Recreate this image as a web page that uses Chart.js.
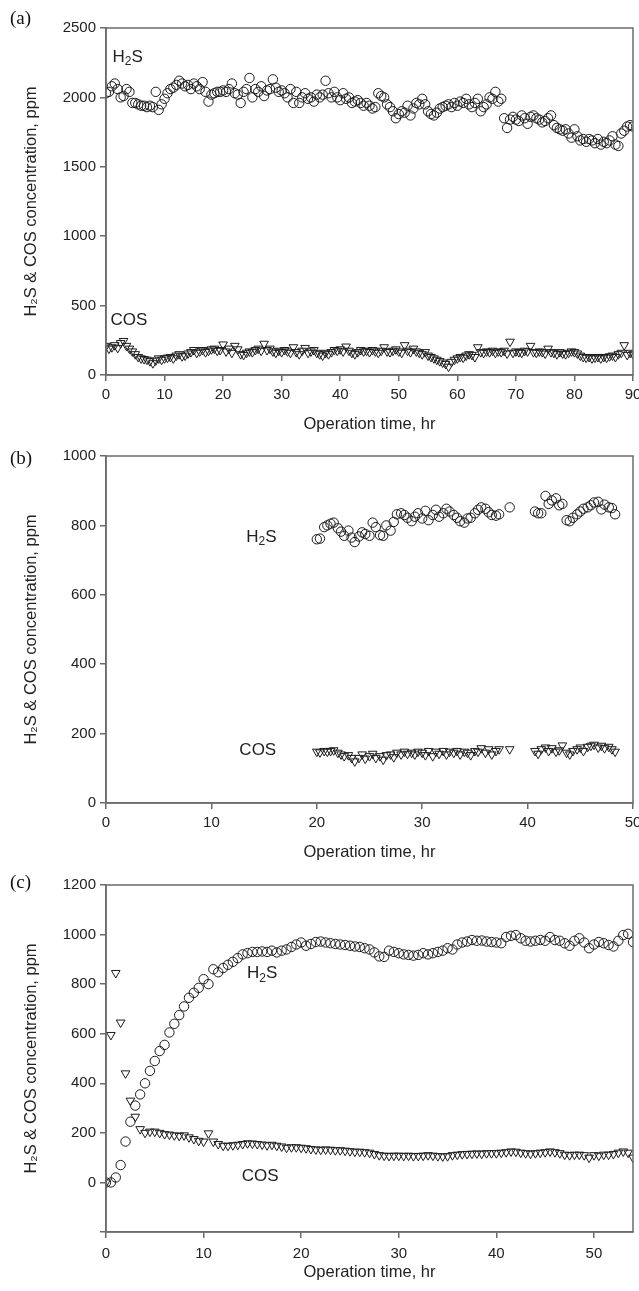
<!DOCTYPE html>
<html><head><meta charset="utf-8">
<script src="https://cdn.jsdelivr.net/npm/chart.js@4.4.1/dist/chart.umd.min.js"></script>
<style>
html,body{margin:0;padding:0;background:#fff;width:639px;height:1291px;overflow:hidden;position:relative;}
.panel{position:absolute;left:0;width:639px;}
.plabel{position:absolute;left:10px;font-family:"Liberation Serif","Times New Roman",serif;font-size:19px;color:#111;line-height:1;}
</style></head><body>
<div class="panel" style="top:0;height:440px"><canvas id="ca" width="639" height="440"></canvas></div>
<div class="panel" style="top:428px;height:440px"><canvas id="cb" width="639" height="440"></canvas></div>
<div class="panel" style="top:857px;height:434px"><canvas id="cc" width="639" height="434"></canvas></div>
<div class="plabel" style="top:8px">(a)</div>
<div class="plabel" style="top:448px">(b)</div>
<div class="plabel" style="top:872px">(c)</div>
<script>
// ---------- Panel (a) ----------
const timeA = [
 0,0.5,1,1.5,2,2.5,3,3.5,4,4.5,5,5.5,6,6.5,7,7.5,8,8.5,9,9.5,
 10,10.5,11,11.5,12,12.5,13,13.5,14,14.5,15,15.5,16,16.5,17,17.5,18,18.5,19,19.5,
 20,20.5,21,21.5,22,22.5,23,23.5,24,24.5,25,25.5,26,26.5,27,27.5,28,28.5,29,29.5,
 30,30.5,31,31.5,32,32.5,33,33.5,34,34.5,35,35.5,36,36.5,37,37.5,38,38.5,39,39.5,
 40,40.5,41,41.5,42,42.5,43,43.5,44,44.5,45,45.5,46,46.5,47,47.5,
 48,48.5,49,49.5,50,50.5,51,51.5,52,52.5,53,53.5,54,54.5,55,55.5,56,56.5,57,57.5,
 58,58.5,59,59.5,60,60.5,61,61.5,62,62.5,63,63.5,64,64.5,65,65.5,66,66.5,67,67.5,
 68,68.5,69,69.5,70,70.5,71,71.5,72,72.5,73,73.5,74,74.5,75,75.5,76,76.5,77,77.5,
 78,78.5,79,79.5,80,80.5,81,81.5,82,82.5,83,83.5,84,84.5,85,85.5,86,86.5,87,87.5,
 88,88.5,89,89.5,90
];
const h2sA = [
 2030,2040,2080,2100,2060,2000,2010,2060,2040,1960,1960,1950,1940,1940,1930,1940,1930,2040,1910,1950,
 1990,2030,2060,2070,2090,2120,2100,2080,2090,2060,2100,2080,2060,2110,2040,1970,2020,2030,2040,2040,
 2050,2040,2060,2100,2030,2020,1960,2040,2060,2140,2000,2060,2040,2080,2010,2050,2060,2130,2070,2040,
 2050,2030,2000,2060,1960,2040,1960,2000,2030,1990,2000,1970,2020,2000,2020,2120,2030,2000,2040,2000,
 1980,2030,1990,2000,1960,1970,1980,1960,1940,1960,1940,1920,1930,2030,2010,2000,
 1950,1930,1900,1850,1880,1900,1890,1940,1870,1920,1960,1950,1990,1950,1900,1880,1870,1890,1920,1930,
 1940,1950,1930,1960,1940,1970,1960,1990,1950,1930,1960,1990,1900,1930,1950,2000,1990,2040,1970,1990,
 1850,1780,1840,1860,1840,1830,1870,1850,1810,1860,1870,1850,1840,1820,1830,1850,1870,1800,1780,1770,
 1760,1770,1740,1710,1770,1720,1690,1700,1680,1700,1690,1670,1700,1660,1680,1670,1690,1720,1660,1650,
 1740,1760,1790,1800,1790
];
const cosA = [
 210,190,200,215,195,230,245,210,190,170,150,130,120,115,110,100,85,105,120,110,
 120,125,130,120,140,150,135,140,155,165,180,160,170,180,165,175,185,190,175,180,
 220,170,190,160,210,185,150,145,160,170,165,180,190,175,225,180,190,170,160,175,
 165,180,170,160,200,165,150,175,195,160,170,180,160,150,140,160,150,165,180,175,
 185,170,205,175,160,150,165,180,170,175,165,180,170,160,175,200,170,165,175,185,
 170,160,215,175,165,190,170,160,150,165,140,130,120,110,100,90,80,60,95,110,
 120,130,125,140,150,145,130,200,165,160,170,165,175,160,170,165,175,155,240,160,
 170,165,160,175,170,210,165,160,170,165,155,190,165,160,150,165,155,150,160,170,
 165,155,140,130,125,130,120,125,130,120,130,125,135,140,130,150,160,215,145,160,
 150
];
const xTicksA = [0,10,20,30,40,50,60,70,80,90];
const yTicksA = [0,500,1000,1500,2000,2500];

// ---------- Panel (b) ----------
const timeB = [
 20.0,20.3,20.7,21.0,21.3,21.6,22.0,22.3,22.6,23.0,23.3,23.6,24.0,24.3,24.6,25.0,25.3,25.6,26.0,26.3,
 26.6,27.0,27.3,27.6,28.0,28.3,28.6,29.0,29.3,29.6,30.0,30.3,30.6,31.0,31.3,31.6,32.0,32.3,32.6,33.0,
 33.3,33.6,34.0,34.3,34.6,35.0,35.3,35.6,36.0,36.3,36.6,37.0,37.3,38.3,
 40.7,41.0,41.3,41.7,42.0,42.3,42.7,43.0,43.3,43.7,44.0,44.3,44.7,45.0,45.3,45.7,46.0,46.3,46.7,47.0,
 47.3,47.7,48.0,48.3
];
const h2sB = [
 760,762,795,800,805,808,792,782,770,785,765,752,768,780,775,770,808,795,772,770,
 800,785,810,832,835,830,822,812,825,835,820,842,815,830,845,825,835,848,840,830,
 822,812,808,820,822,835,845,852,848,838,830,828,832,852,
 840,835,835,885,862,872,878,858,862,815,812,822,832,840,848,852,858,866,868,846,
 860,852,850,832
];
const cosB = [
 148,146,150,148,150,152,145,140,135,138,130,120,130,140,128,135,142,130,135,125,
 138,140,132,145,140,148,142,145,140,148,145,138,150,135,148,142,150,140,148,145,
 150,140,148,145,138,150,148,158,145,155,140,150,155,155,
 150,142,155,160,150,158,148,152,166,145,140,150,155,160,150,162,165,168,160,165,
 158,162,155,148
];
const xTicksB = [0,10,20,30,40,50];
const yTicksB = [0,200,400,600,800,1000];

// ---------- Panel (c) ----------
const timeC = [
 0,0.5,1,1.5,2,2.5,3,3.5,4,4.5,5,5.5,6,6.5,7,7.5,8,8.5,9,9.5,
 10,10.5,11,11.5,12,12.5,13,13.5,14,14.5,15,15.5,16,16.5,17,17.5,18,18.5,19,19.5,
 20,20.5,21,21.5,22,22.5,23,23.5,24,24.5,25,25.5,26,26.5,27,27.5,28,28.5,29,29.5,
 30,30.5,31,31.5,32,32.5,33,33.5,34,34.5,35,35.5,36,36.5,37,37.5,38,38.5,39,39.5,
 40,40.5,41,41.5,42,42.5,43,43.5,44,44.5,45,45.5,46,46.5,47,47.5,48,48.5,49,49.5,
 50,50.5,51,51.5,52,52.5,53,53.5,54
];
const h2sC = [
 0,0,20,70,165,245,310,355,400,450,490,530,555,605,640,675,710,745,765,785,
 820,800,860,848,865,878,890,905,920,925,930,930,932,930,935,928,935,940,950,960,
 968,955,962,970,972,968,965,962,960,958,955,952,950,945,940,928,912,910,935,930,
 925,920,918,915,918,925,920,925,930,935,945,940,960,968,972,978,975,976,972,970,
 968,965,990,995,998,985,975,972,975,978,975,990,978,975,965,955,975,985,968,945,
 960,970,965,958,952,975,998,1003,970
];
const cosC = [
 0,595,845,645,440,330,265,215,200,205,205,200,195,193,190,188,190,182,175,168,
 165,198,165,155,148,148,150,152,155,158,157,155,153,150,152,148,145,140,142,142,
 140,138,135,133,132,133,132,130,130,128,126,124,124,122,120,115,110,108,107,108,
 108,107,108,106,107,108,110,108,106,105,106,110,112,114,115,116,117,116,118,118,
 118,120,122,125,124,120,118,116,118,120,122,125,122,118,112,110,112,112,110,100,
 110,108,112,112,115,120,125,120,100
];
const xTicksC = [0,10,20,30,40,50];
const yTicksC = [-200,0,200,400,600,800,1000,1200];

// ---------- drawing ----------
const SANS = '"Liberation Sans", Arial, sans-serif';
const AXIS = '#6b6b6b';
const INK = '#222';

const framePlugin = {
  id: 'frame',
  afterDatasetsDraw(chart) {
    const a = chart.chartArea, c = chart.ctx;
    c.save(); c.strokeStyle = AXIS; c.lineWidth = 1.5;
    c.strokeRect(a.left, a.top, a.right - a.left, a.bottom - a.top);
    c.restore();
  }
};
const textPlugin = {
  id: 'chemLabels',
  afterDatasetsDraw(chart, args, opts) {
    const c = chart.ctx, xs = chart.scales.x, ys = chart.scales.y;
    (opts.items || []).forEach(it => {
      const px = xs.getPixelForValue(it.x), py = ys.getPixelForValue(it.y);
      const big = '17px ' + SANS, small = '12px ' + SANS;
      c.save(); c.fillStyle = INK; c.textBaseline = 'middle';
      let w = 0;
      it.parts.forEach(p => { c.font = p[1] ? small : big; w += c.measureText(p[0]).width; });
      let x = px - w / 2;
      it.parts.forEach(p => {
        c.font = p[1] ? small : big;
        c.fillText(p[0], x, py + (p[1] ? 5 : 0));
        x += c.measureText(p[0]).width;
      });
      c.restore();
    });
  }
};

function makePanel(p) {
  const ptsH = p.t.map((v, i) => ({ x: v, y: p.h[i] }));
  const ptsC = p.t.map((v, i) => ({ x: v, y: p.c[i] }));
  new Chart(document.getElementById(p.id), {
    type: 'scatter',
    data: { datasets: [
      { label: 'H2S', data: ptsH, pointStyle: 'circle', pointRadius: 4.7, borderWidth: 1,
        borderColor: '#1a1a1a', backgroundColor: 'rgba(0,0,0,0)' },
      { label: 'COS', data: ptsC, pointStyle: 'triangle', rotation: 180, pointRadius: 5, borderWidth: 1,
        borderColor: '#1a1a1a', backgroundColor: 'rgba(0,0,0,0)' }
    ]},
    options: {
      responsive: false, animation: false, devicePixelRatio: 1,
      layout: { padding: { left: 22, right: 5, top: 28, bottom: p.padB } },
      plugins: { legend: { display: false }, tooltip: { enabled: false },
        chemLabels: { items: p.labels } },
      scales: {
        x: {
          type: 'linear', min: 0, max: p.xMax,
          afterBuildTicks(s) { s.ticks = p.xTicks.map(v => ({ value: v })); },
          ticks: { color: INK, font: { family: SANS, size: 15 }, padding: p.xPad, maxRotation: 0 },
          grid: { drawOnChartArea: false, drawTicks: true, tickLength: 6, color: AXIS, lineWidth: 1.5 },
          border: { display: true, color: AXIS, width: 1.5 },
          title: { display: true, text: 'Operation time, hr', color: INK,
                   font: { family: SANS, size: 16.5 }, padding: { top: 0, bottom: 0 } },
          afterFit(s) { s.height = p.xH; s.paddingLeft = 0; s.paddingRight = 0; }
        },
        y: {
          type: 'linear', min: p.yMin, max: p.yMax,
          afterBuildTicks(s) { s.ticks = p.yTicks.map(v => ({ value: v })); },
          ticks: { color: INK, font: { family: SANS, size: 15 }, padding: 4,
                   callback: v => (v < 0 ? '' : String(v)) },
          grid: { drawOnChartArea: false, drawTicks: true, tickLength: 6, color: AXIS, lineWidth: 1.5 },
          border: { display: true, color: AXIS, width: 1.5 },
          title: { display: true, text: 'H\u2082S & COS concentration, ppm', color: INK,
                   font: { family: SANS, size: 16.5 }, padding: { top: 0, bottom: 0 } },
          afterFit(s) { s.width = 84; s.paddingTop = 0; s.paddingBottom = 0; }
        }
      }
    },
    plugins: [framePlugin, textPlugin]
  });
}

const H2S = [['H', 0], ['2', 1], ['S', 0]];
const COS = [['COS', 0]];

makePanel({ id: 'ca', t: timeA, h: h2sA, c: cosA, xMax: 90, yMin: 0, yMax: 2500,
  xTicks: xTicksA, yTicks: yTicksA, padB: 6, xH: 59, xPad: 5,
  labels: [{ parts: H2S, x: 3.7, y: 2290 }, { parts: COS, x: 3.9, y: 396 }] });
makePanel({ id: 'cb', t: timeB, h: h2sB, c: cosB, xMax: 50, yMin: 0, yMax: 1000,
  xTicks: xTicksB, yTicks: yTicksB, padB: 6, xH: 59, xPad: 5,
  labels: [{ parts: H2S, x: 14.75, y: 767 }, { parts: COS, x: 14.4, y: 153 }] });
makePanel({ id: 'cc', t: timeC, h: h2sC, c: cosC, xMax: 54, yMin: -200, yMax: 1200,
  xTicks: xTicksC, yTicks: yTicksC, padB: 9, xH: 50, xPad: 7,
  labels: [{ parts: H2S, x: 16, y: 844 }, { parts: COS, x: 15.8, y: 26 }] });
</script>
</body></html>
